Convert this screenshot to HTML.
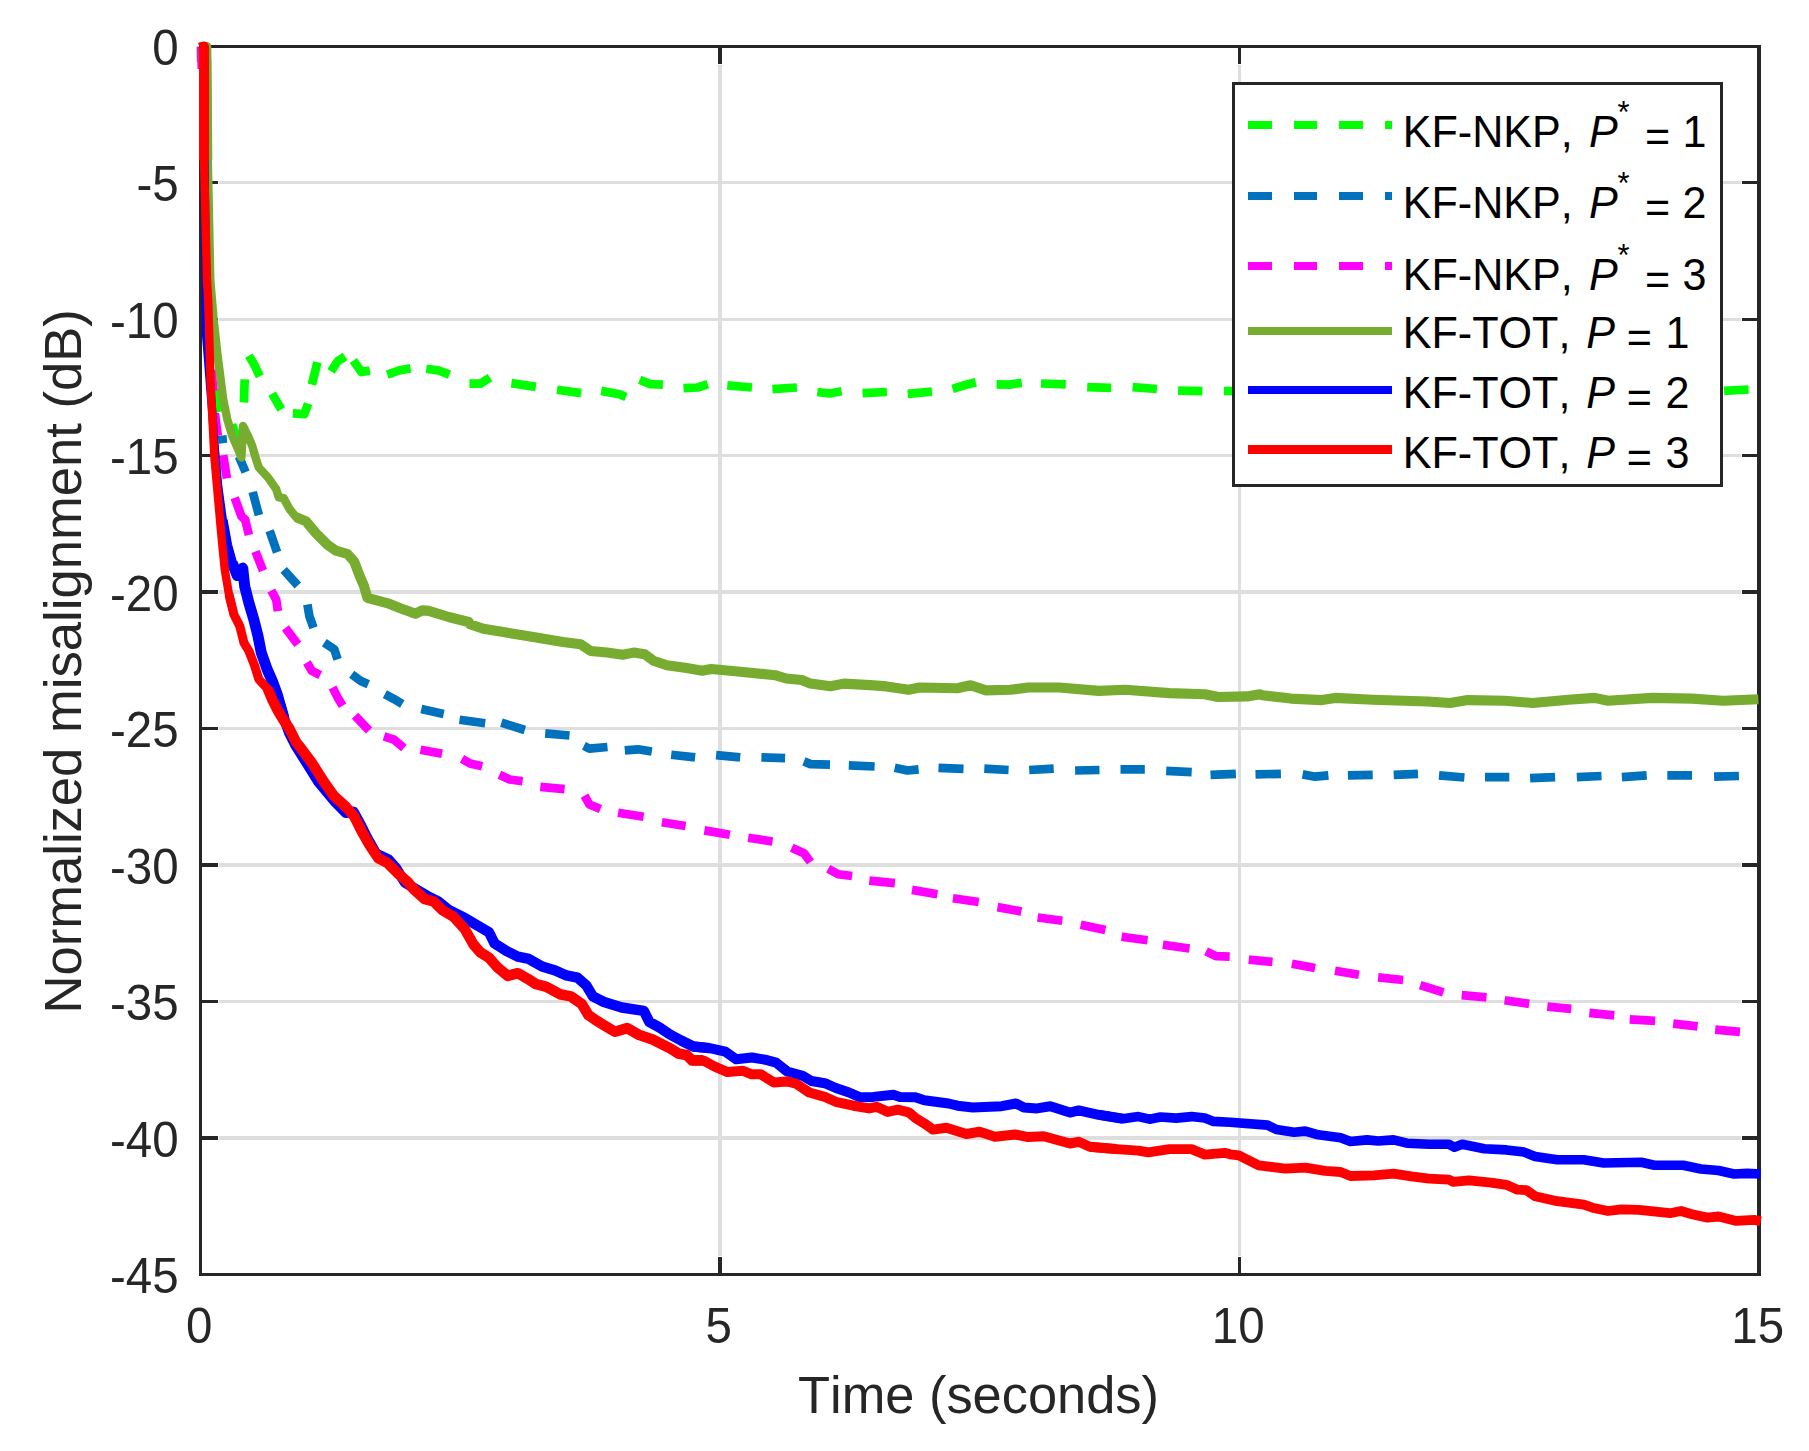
<!DOCTYPE html>
<html lang="en"><head><meta charset="utf-8"><title>Normalized misalignment</title>
<style>html,body{margin:0;padding:0;background:#fff}svg{display:block}text{font-family:"Liberation Sans",Arial,Helvetica,sans-serif;font-kerning:none;font-variant-ligatures:none}</style></head><body>
<svg width="1809" height="1451" viewBox="0 0 1809 1451">
<rect width="1809" height="1451" fill="#fff"/>
<g shape-rendering="crispEdges">
<g fill="#dedede">
<rect x="219" y="181" width="1522" height="3"/>
<rect x="219" y="318" width="1522" height="3"/>
<rect x="219" y="454" width="1522" height="3"/>
<rect x="219" y="590" width="1522" height="4"/>
<rect x="219" y="727" width="1522" height="3"/>
<rect x="219" y="863" width="1522" height="4"/>
<rect x="219" y="1000" width="1522" height="3"/>
<rect x="219" y="1136" width="1522" height="4"/>
<rect x="718" y="65" width="4" height="1191"/>
<rect x="1238" y="65" width="3" height="1191"/>
</g>
<g fill="#262626">
<rect x="202" y="181" width="16" height="3"/>
<rect x="1742" y="181" width="15" height="3"/>
<rect x="202" y="318" width="16" height="3"/>
<rect x="1742" y="318" width="15" height="3"/>
<rect x="202" y="454" width="16" height="3"/>
<rect x="1742" y="454" width="15" height="3"/>
<rect x="202" y="590" width="16" height="4"/>
<rect x="1742" y="590" width="15" height="4"/>
<rect x="202" y="727" width="16" height="3"/>
<rect x="1742" y="727" width="15" height="3"/>
<rect x="202" y="863" width="16" height="4"/>
<rect x="1742" y="863" width="15" height="4"/>
<rect x="202" y="1000" width="16" height="3"/>
<rect x="1742" y="1000" width="15" height="3"/>
<rect x="202" y="1136" width="16" height="4"/>
<rect x="1742" y="1136" width="15" height="4"/>
<rect x="718" y="1257" width="4" height="16"/>
<rect x="718" y="48" width="4" height="16"/>
<rect x="1238" y="1257" width="3" height="16"/>
<rect x="1238" y="48" width="3" height="16"/>
<rect x="199" y="45" width="1562" height="3"/>
<rect x="199" y="1273" width="1562" height="3"/>
<rect x="199" y="45" width="3" height="1231"/>
<rect x="1757" y="45" width="4" height="1231"/>
</g></g>
<path d="M200.8,46.6 L201.0,62.0 M214.0,390.0 L219.5,412.0 M232.0,424.5 L238.3,441.0 M244.7,379.3 L243.9,402.5 M248.9,355.6 L254.7,365.5 L259.7,376.3 M272.1,393.7 L281.2,409.5 M292.8,413.3 L304.4,414.1 L308.1,403.6 M311.9,384.6 L317.4,362.2 M331.0,371.3 L337.6,361.4 L345.1,356.4 M353.3,360.5 L361.6,372.1 L369.9,370.5 M387.3,374.6 L399.0,370.5 L410.6,368.3 M426.3,368.8 L438.8,370.5 L449.5,374.6 M469.4,383.7 L480.2,383.7 L490.0,377.6 M511.4,383.1 L535.8,386.9 M557.0,389.8 L581.1,393.1 M601.2,390.9 L619.4,394.2 L626.0,397.0 M639.7,379.8 L650.3,384.2 L662.9,384.7 M683.5,388.2 L697.8,387.5 L707.8,384.2 M727.3,385.3 L752.0,387.5 M772.4,389.1 L796.9,387.5 M817.3,392.0 L829.4,393.5 L841.6,391.3 M862.6,393.1 L886.9,392.0 M907.7,393.9 L932.0,391.7 M952.6,388.8 L965.2,385.0 L975.8,382.2 M996.6,384.4 L1009.4,384.6 L1021.8,382.8 M1041.0,383.5 L1065.8,384.4 M1087.2,387.2 L1111.1,387.9 M1132.6,387.2 L1156.9,389.0 M1178.1,390.6 L1202.4,391.2 M1223.9,391.0 L1234.9,391.2 M1724.1,390.8 L1748.6,389.5" stroke="#00ff00" stroke-width="8.70" fill="none" stroke-linecap="butt" stroke-linejoin="round"/>
<path d="M222.2,435.5 L223.0,443.3 M238.9,456.4 L245.6,472.1 M252.7,492.0 L258.9,515.2 M269.6,530.8 L277.1,552.3 M283.7,569.8 L297.8,585.5 M307.4,604.6 L309.4,616.2 L313.5,627.8 M324.3,642.7 L334.3,649.4 L337.6,659.3 M351.7,674.2 L360.8,680.9 L368.3,684.2 M384.9,694.1 L394.0,699.1 L402.3,704.1 M421.3,709.1 L443.7,714.0 M459.5,719.8 L485.2,723.2 M501.4,722.7 L524.8,730.0 M545.2,733.3 L569.5,735.5 M583.9,745.9 L589.4,748.6 L607.5,747.0 M624.8,750.4 L638.0,749.3 L651.8,751.5 M671.2,754.8 L695.1,757.4 M716.1,755.2 L740.2,757.4 M761.4,757.4 L785.1,758.1 M803.9,761.4 L810.5,764.1 L830.0,764.7 M848.8,765.4 L874.6,766.5 M894.7,767.8 L907.5,770.5 L918.6,769.4 M938.5,767.8 L963.5,768.9 M984.3,768.7 L1008.6,770.0 M1029.2,770.0 L1053.7,768.7 M1075.1,770.5 L1099.5,770.0 M1120.5,769.4 L1144.8,769.4 M1166.2,770.9 L1191.7,772.2 M1210.5,774.9 L1235.9,773.8 M1255.5,774.4 L1280.9,773.8 M1302.6,774.4 L1315.2,776.7 L1328.4,775.3 M1347.9,775.3 L1372.7,774.9 M1393.7,774.9 L1418.0,773.8 M1439.0,775.3 L1464.4,777.5 M1485.0,777.1 L1509.3,777.1 M1530.1,778.2 L1555.1,777.1 M1576.8,777.1 L1601.5,776.0 M1621.9,777.1 L1646.7,775.3 M1667.3,775.3 L1692.0,775.3 M1714.1,776.7 L1738.9,776.0" stroke="#0072bd" stroke-width="8.70" fill="none" stroke-linecap="butt" stroke-linejoin="round"/>
<path d="M201.2,46.6 L201.8,69.0 M211.5,370.0 L213.5,391.0 M214.9,413.3 L217.8,435.7 M223.2,455.1 L226.9,478.4 M234.7,497.8 L241.5,516.4 L245.2,519.8 L248.9,535.1 M255.5,551.5 L263.0,570.6 M271.3,590.5 L276.2,599.6 L277.9,611.2 M285.4,627.8 L297.8,644.4 M306.9,662.6 L311.9,670.9 L320.2,675.1 M332.6,687.5 L337.6,697.4 L342.6,705.7 M355.0,715.7 L369.1,730.6 M384.0,736.4 L394.0,739.7 L403.9,748.0 M420.5,749.7 L442.1,753.8 M462.0,758.8 L470.0,763.4 L482.2,766.3 M499.4,774.7 L509.8,779.5 L522.6,781.3 M540.3,786.8 L564.6,789.1 M584.5,795.7 L589.4,804.5 L600.5,809.0 M618.1,812.7 L643.6,816.7 M661.9,822.2 L685.6,826.0 M704.4,830.4 L729.8,834.8 M748.2,837.7 L772.5,841.5 M791.7,847.7 L803.9,853.2 L810.5,862.0 M828.2,868.7 L838.2,874.2 L852.1,876.0 M869.3,880.6 L894.9,883.2 M912.0,889.9 L937.4,894.3 M952.9,898.3 L978.7,902.0 M997.5,907.1 L1021.4,911.5 M1037.6,917.5 L1062.3,920.8 M1080.7,924.8 L1105.4,930.1 M1121.6,936.7 L1147.5,940.3 M1162.9,944.7 L1189.5,948.5 M1206.0,951.3 L1216.0,956.2 L1229.7,956.6 M1248.8,959.7 L1272.5,961.9 M1291.9,963.7 L1315.1,968.1 M1335.0,970.8 L1358.9,974.7 M1378.1,977.4 L1403.1,980.0 M1420.2,985.1 L1443.4,992.4 M1461.7,995.1 L1486.5,997.3 M1504.6,1000.2 L1529.2,1003.9 M1547.3,1006.6 L1571.2,1008.8 M1589.3,1012.8 L1614.3,1015.4 M1629.7,1019.3 L1655.1,1020.8 M1673.2,1023.7 L1697.6,1026.3 M1715.2,1029.7 L1740.0,1031.9" stroke="#ff00ff" stroke-width="8.70" fill="none" stroke-linecap="butt" stroke-linejoin="round"/>
<path d="M203.0,46.5 L206.8,46.5 L207.0,60.0 L207.8,160.0" stroke="#77ac30" stroke-width="9.00" fill="none" stroke-linecap="butt" stroke-linejoin="round"/>
<path d="M207.0,60.0 L207.8,160.0 L210.3,280.0 L213.6,319.4 L217.5,354.6 L219.0,366.3 L223.2,399.5 L227.3,419.4 L232.3,436.0 L238.1,449.3 L241.4,457.5 L243.1,426.0 L248.0,436.0 L252.2,445.9 L255.5,457.5 L258.8,467.5 L267.9,477.4 L276.2,489.1 L278.7,497.3 L283.7,498.2 L289.5,509.0 L296.1,517.2 L306.1,521.4" stroke="#77ac30" stroke-width="8.40" fill="none" stroke-linecap="butt" stroke-linejoin="round"/>
<path d="M296.1,517.2 L306.1,521.4 L316.0,533.3 L327.6,544.9 L335.9,550.7 L347.5,554.0 L354.2,561.5 L359.2,574.7 L364.1,586.3 L367.4,597.9 L389.0,603.7 L403.9,609.6 L415.5,613.7 L422.2,610.4 L428.8,610.9 L448.7,617.0 L468.6,622.0 L470.0,624.3 L483.3,628.7 L503.2,632.1 L536.3,637.6 L562.9,642.0 L580.6,644.2 L590.5,650.9 L607.1,652.6 L622.6,654.8 L633.6,652.6 L644.7,654.2 L653.5,660.8 L666.8,665.2 L686.7,668.1 L702.2,670.8 L711.0,669.0 L735.3,671.2 L775.1,675.2 L786.2,678.5 L801.7,680.0 L810.5,683.6 L830.4,686.2 L843.7,683.6 L870.0,685.1 L886.5,686.4 L908.6,689.8 L919.7,687.5 L957.3,688.2 L970.6,685.3 L986.0,690.4 L1010.4,689.8 L1028.0,687.5 L1059.0,687.5 L1098.8,690.9 L1125.3,689.8 L1169.6,693.1 L1204.9,694.2 L1218.2,697.0 L1247.0,696.4 L1260.0,694.2 L1262.1,695.3 L1290.9,698.6 L1321.8,700.1 L1335.1,697.9 L1372.7,699.7 L1427.9,701.5 L1450.1,703.0 L1467.8,700.1 L1505.3,700.8 L1532.8,703.0 L1568.2,699.7 L1594.7,697.9 L1608.0,700.8 L1652.2,697.9 L1692.0,698.6 L1723.0,700.8 L1758.4,699.3" stroke="#77ac30" stroke-width="10.10" fill="none" stroke-linecap="butt" stroke-linejoin="round"/>
<path d="M199.5,47.5 L203.8,46.5 L204.0,52.0 L204.3,150.0" stroke="#0000ff" stroke-width="9.00" fill="none" stroke-linecap="butt" stroke-linejoin="round"/>
<path d="M204.0,52.0 L204.3,150.0 L206.0,280.0 L206.2,336.0 L209.5,377.8 L212.6,416.6 L214.9,449.8 L218.2,486.6 L222.8,520.0 L227.3,544.9" stroke="#0000ff" stroke-width="8.40" fill="none" stroke-linecap="butt" stroke-linejoin="round"/>
<path d="M222.8,520.0 L227.3,544.9 L232.3,563.1 L237.3,575.6" stroke="#0000ff" stroke-width="9.60" fill="none" stroke-linecap="butt" stroke-linejoin="round"/>
<path d="M232.3,563.1 L237.3,575.6 L242.7,568.1 L244.7,586.3 L248.9,602.9 L253.8,619.5 L258.0,636.1 L261.3,652.7 L267.1,669.3 L272.9,682.5 L277.1,694.1 L280.4,705.7 L284.2,719.0" stroke="#0000ff" stroke-width="11.00" fill="none" stroke-linecap="butt" stroke-linejoin="round"/>
<path d="M280.4,705.7 L284.2,719.0 L289.0,732.3 L295.6,745.5 L306.8,763.2 L318.5,782.0 L335.1,801.9 L345.9,812.9 L353.5,811.8 L360.8,825.1 L367.4,838.3 L376.2,853.8 L388.4,859.4 L396.1,868.2 L405.0,882.6 L416.0,889.2 L427.1,895.8 L438.1,901.4 L449.2,910.2 L464.7,917.9 L477.9,925.7 L489.0,932.3 L494.5,943.4 L506.7,951.1 L517.8,956.6 L528.8,958.9 L542.1,966.6 L555.3,970.6 L566.4,975.4 L577.5,977.7 L586.3,985.4 L592.9,996.4 L604.0,1002.0 L621.7,1007.5 L643.8,1010.8 L649.3,1021.9 L659.3,1027.4 L670.0,1034.5 L681.1,1040.5 L693.2,1046.5 L709.8,1048.2" stroke="#0000ff" stroke-width="10.40" fill="none" stroke-linecap="butt" stroke-linejoin="round"/>
<path d="M693.2,1046.5 L709.8,1048.2 L725.3,1051.6 L736.3,1059.3 L751.8,1057.5 L765.1,1059.7 L776.1,1062.6 L787.2,1071.5 L802.7,1075.9 L811.5,1081.0 L824.8,1083.2 L835.8,1088.0 L849.1,1092.5 L860.2,1097.3 L873.4,1096.9 L893.3,1094.7 L900.0,1096.9 L915.4,1097.3 L924.3,1100.2 L948.6,1103.5 L957.5,1105.7 L972.9,1107.5 L1001.7,1106.2 L1016.0,1103.5 L1023.8,1107.5 L1037.1,1108.4 L1050.3,1106.2 L1069.9,1112.6 L1078.7,1110.4 L1098.6,1114.8 L1123.0,1118.8" stroke="#0000ff" stroke-width="10.00" fill="none" stroke-linecap="butt" stroke-linejoin="round"/>
<path d="M1098.6,1114.8 L1123.0,1118.8 L1138.4,1116.6 L1149.5,1119.2 L1160.6,1117.0 L1176.0,1118.1 L1191.5,1116.6 L1204.8,1118.1 L1213.6,1121.4 L1230.0,1122.2 L1267.6,1125.1 L1276.4,1129.5 L1294.1,1132.2 L1305.2,1131.1 L1318.4,1134.8 L1340.6,1137.7 L1350.5,1141.5 L1367.1,1139.9 L1378.1,1141.0 L1393.6,1139.9 L1406.9,1143.2 L1429.0,1144.3 L1448.9,1144.3 L1454.4,1147.2 L1462.2,1144.3 L1484.3,1148.8 L1506.4,1149.9 L1524.1,1152.1 L1535.1,1156.5 L1557.3,1159.8 L1583.8,1159.8 L1603.6,1163.0 L1641.2,1162.3 L1654.4,1165.2 L1683.2,1165.2 L1700.9,1169.0 L1718.6,1170.5 L1734.0,1174.0 L1747.3,1173.4 L1760.6,1174.0" stroke="#0000ff" stroke-width="9.60" fill="none" stroke-linecap="butt" stroke-linejoin="round"/>
<path d="M199.5,47.5 L203.8,46.5 L204.0,52.0 L204.0,160.0" stroke="#ff0000" stroke-width="10.00" fill="none" stroke-linecap="butt" stroke-linejoin="round"/>
<path d="M204.0,52.0 L204.0,160.0 L205.0,200.0 L207.0,280.0 L208.2,300.0 L210.6,383.0 L214.3,455.9 L220.9,530.0 L222.3,544.9 L224.8,569.8 L229.0,594.6 L233.9,614.5" stroke="#ff0000" stroke-width="8.40" fill="none" stroke-linecap="butt" stroke-linejoin="round"/>
<path d="M229.0,594.6 L233.9,614.5 L239.8,626.1 L243.9,642.7 L248.9,651.0 L254.7,665.9 L258.8,679.2 L267.9,689.2 L272.9,700.8" stroke="#ff0000" stroke-width="9.00" fill="none" stroke-linecap="butt" stroke-linejoin="round"/>
<path d="M267.9,689.2 L272.9,700.8 L277.9,710.7 L282.9,719.0 L289.5,729.0 L296.1,742.2 L298.8,745.5 L312.1,763.2 L323.2,780.9 L334.2,796.3 L345.3,806.3 L354.1,816.2 L361.9,831.7 L369.6,845.0 L378.4,858.2 L387.3,862.7 L398.3,873.7 L407.2,881.5 L413.8,889.2 L424.9,899.2 L433.7,901.4 L442.6,910.2 L453.6,916.8 L464.7,929.0 L473.5,944.5 L480.2,952.2 L489.0,957.8 L497.8,967.7 L507.8,975.9 L517.8,973.2 L527.7,978.8 L535.4,983.8 L546.5,986.9 L559.8,994.2 L570.8,996.4 L581.9,1004.2 L588.5,1015.2 L595.1,1019.7 L604.0,1025.2 L615.0,1031.8 L627.2,1028.1 L639.4,1035.1 L652.6,1039.6 L665.9,1046.2 L670.0,1048.2 L678.8,1053.8 L686.6,1054.9 L692.1,1060.4 L703.2,1060.4" stroke="#ff0000" stroke-width="10.60" fill="none" stroke-linecap="butt" stroke-linejoin="round"/>
<path d="M692.1,1060.4 L703.2,1060.4 L714.2,1066.4 L727.5,1072.1 L743.0,1070.8 L751.8,1074.3 L760.7,1074.3 L773.9,1082.5 L787.2,1081.4 L796.0,1083.6 L809.3,1092.5 L824.8,1096.9 L835.8,1101.8 L853.5,1105.7 L869.0,1108.4 L876.7,1106.8 L887.8,1111.9 L897.8,1109.7 L908.8,1112.4 L915.4,1117.9 L924.3,1123.4 L933.1,1129.6 L946.4,1127.8 L966.3,1134.0 L979.6,1131.8 L995.0,1136.7 L1014.9,1134.5 L1028.2,1137.1 L1043.7,1136.3 L1069.9,1143.5 L1078.7,1141.8 L1089.8,1146.8 L1116.3,1149.1" stroke="#ff0000" stroke-width="10.00" fill="none" stroke-linecap="butt" stroke-linejoin="round"/>
<path d="M1089.8,1146.8 L1116.3,1149.1 L1138.4,1150.6 L1148.4,1152.4 L1169.4,1149.1 L1191.5,1149.1 L1204.8,1154.6 L1224.7,1152.8 L1230.0,1154.3 L1238.8,1155.4 L1258.7,1165.3 L1285.3,1168.7 L1305.2,1167.6 L1325.1,1170.9 L1340.6,1172.0 L1350.5,1176.0 L1373.7,1175.3 L1393.6,1173.7 L1411.3,1176.4 L1429.0,1178.6 L1448.9,1179.7 L1453.3,1181.9 L1468.8,1180.4 L1490.9,1182.6 L1506.4,1184.8 L1517.5,1189.7 L1526.3,1190.1 L1535.1,1196.3 L1557.3,1201.2 L1583.8,1204.7 L1592.5,1207.7 L1608.0,1211.0 L1621.3,1209.4 L1639.0,1209.9 L1669.9,1213.2 L1681.0,1211.0 L1692.0,1214.3 L1707.5,1217.6 L1718.6,1216.5 L1736.3,1220.9 L1753.9,1219.8 L1760.6,1221.4" stroke="#ff0000" stroke-width="9.80" fill="none" stroke-linecap="butt" stroke-linejoin="round"/>
<g font-size="47.5px" fill="#262626">
<text x="178.7" y="65.5" text-anchor="end" transform="matrix(1 0 0 1.040 0 -2.620)">0</text>
<text x="178.7" y="201.5" text-anchor="end" transform="matrix(1 0 0 1.040 0 -8.060)">-5</text>
<text x="178.7" y="338.5" text-anchor="end" transform="matrix(1 0 0 1.040 0 -13.540)">-10</text>
<text x="178.7" y="474.5" text-anchor="end" transform="matrix(1 0 0 1.040 0 -18.980)">-15</text>
<text x="178.7" y="611.0" text-anchor="end" transform="matrix(1 0 0 1.040 0 -24.440)">-20</text>
<text x="178.7" y="747.5" text-anchor="end" transform="matrix(1 0 0 1.040 0 -29.900)">-25</text>
<text x="178.7" y="884.0" text-anchor="end" transform="matrix(1 0 0 1.040 0 -35.360)">-30</text>
<text x="178.7" y="1020.5" text-anchor="end" transform="matrix(1 0 0 1.040 0 -40.820)">-35</text>
<text x="178.7" y="1157.0" text-anchor="end" transform="matrix(1 0 0 1.040 0 -46.280)">-40</text>
<text x="178.7" y="1293.5" text-anchor="end" transform="matrix(1 0 0 1.040 0 -51.740)">-45</text>
<text x="199.2" y="1343.2" text-anchor="middle" transform="matrix(1 0 0 1.040 0 -53.728)">0</text>
<text x="718.7" y="1343.2" text-anchor="middle" transform="matrix(1 0 0 1.040 0 -53.728)">5</text>
<text x="1238.2" y="1343.2" text-anchor="middle" transform="matrix(1 0 0 1.040 0 -53.728)">10</text>
<text x="1757.7" y="1343.2" text-anchor="middle" transform="matrix(1 0 0 1.040 0 -53.728)">15</text>
</g>
<text x="978.5" y="1412.7" font-size="52.4px" fill="#262626" text-anchor="middle">Time (seconds)</text>
<text transform="translate(81,661.4) rotate(-90)" font-size="52.6px" fill="#262626" text-anchor="middle">Normalized misalignment (dB)</text>
<g shape-rendering="crispEdges">
<rect x="1232" y="82" width="491" height="405" fill="#262626"/><rect x="1235" y="85" width="485" height="399" fill="#fff"/>
<rect x="1248" y="121" width="24" height="8" fill="#00ff00"/>
<rect x="1294" y="121" width="23" height="8" fill="#00ff00"/>
<rect x="1339" y="121" width="24" height="8" fill="#00ff00"/>
<rect x="1385" y="121" width="7" height="8" fill="#00ff00"/>
<rect x="1248" y="192" width="24" height="8" fill="#0072bd"/>
<rect x="1294" y="192" width="23" height="8" fill="#0072bd"/>
<rect x="1339" y="192" width="24" height="8" fill="#0072bd"/>
<rect x="1385" y="192" width="7" height="8" fill="#0072bd"/>
<rect x="1248" y="262" width="24" height="8" fill="#ff00ff"/>
<rect x="1294" y="262" width="23" height="8" fill="#ff00ff"/>
<rect x="1339" y="262" width="24" height="8" fill="#ff00ff"/>
<rect x="1385" y="262" width="7" height="8" fill="#ff00ff"/>
<rect x="1248" y="327" width="144" height="8" fill="#77ac30"/>
<rect x="1248" y="386" width="144" height="8" fill="#0000ff"/>
<rect x="1248" y="445" width="144" height="9" fill="#ff0000"/>
</g>
<g font-size="43.1px" fill="#000">
<text y="146.8" transform="matrix(1 0 0 1.040 0 -5.872)"><tspan x="1402.8">KF-NKP,</tspan><tspan x="1589" font-style="italic">P</tspan><tspan x="1617.6" dy="-23.2" font-size="31px">*</tspan><tspan x="1644.9" dy="27">=</tspan><tspan x="1682.4" dy="-3.8">1</tspan></text>
<text y="217.8" transform="matrix(1 0 0 1.040 0 -8.712)"><tspan x="1402.8">KF-NKP,</tspan><tspan x="1589" font-style="italic">P</tspan><tspan x="1617.6" dy="-23.2" font-size="31px">*</tspan><tspan x="1644.9" dy="27">=</tspan><tspan x="1682.4" dy="-3.8">2</tspan></text>
<text y="289.9" transform="matrix(1 0 0 1.040 0 -11.596)"><tspan x="1402.8">KF-NKP,</tspan><tspan x="1589" font-style="italic">P</tspan><tspan x="1617.6" dy="-23.2" font-size="31px">*</tspan><tspan x="1644.9" dy="27">=</tspan><tspan x="1682.4" dy="-3.8">3</tspan></text>
<text y="347.8" transform="matrix(1 0 0 1.040 0 -13.912)"><tspan x="1402.8">KF-TOT,</tspan><tspan x="1586.3" font-style="italic">P</tspan><tspan x="1626.7" dy="3.8">=</tspan><tspan x="1665.5" dy="-3.8">1</tspan></text>
<text y="407.8" transform="matrix(1 0 0 1.040 0 -16.312)"><tspan x="1402.8">KF-TOT,</tspan><tspan x="1586.3" font-style="italic">P</tspan><tspan x="1626.7" dy="3.8">=</tspan><tspan x="1665.5" dy="-3.8">2</tspan></text>
<text y="467.9" transform="matrix(1 0 0 1.040 0 -18.716)"><tspan x="1402.8">KF-TOT,</tspan><tspan x="1586.3" font-style="italic">P</tspan><tspan x="1626.7" dy="3.8">=</tspan><tspan x="1665.5" dy="-3.8">3</tspan></text>
</g>
</svg></body></html>
